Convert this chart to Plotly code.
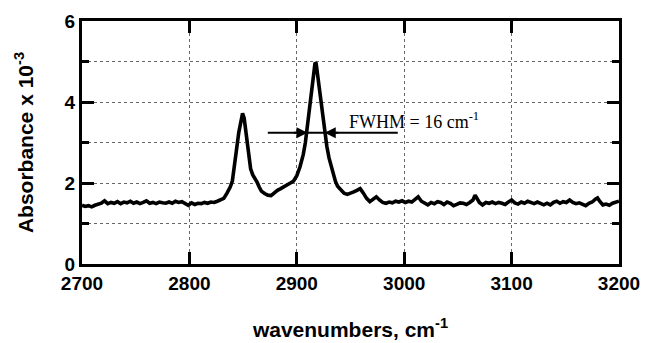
import plotly.graph_objects as go

wavenumbers = [
    2700, 2703, 2706, 2709, 2712, 2715, 2718, 2721, 2724, 2727, 2730, 2733, 2736, 2739, 2742, 2745,
    2748, 2751, 2754, 2757, 2760, 2763, 2766, 2769, 2772, 2775, 2778, 2781, 2784, 2787, 2790, 2793,
    2796, 2799, 2802, 2805, 2808, 2811, 2814, 2817, 2820, 2823, 2826, 2829, 2832, 2835, 2838, 2840,
    2842, 2844, 2846, 2848, 2849.5, 2851, 2853, 2855, 2857, 2859, 2861, 2863, 2865, 2867, 2870, 2873,
    2876, 2879, 2882, 2885, 2888, 2891, 2894, 2897, 2900, 2903, 2906, 2908, 2910, 2912, 2914, 2916,
    2917, 2918, 2920, 2922, 2924, 2926, 2928, 2930, 2932, 2934, 2936, 2938, 2941, 2944, 2947, 2950,
    2953, 2956, 2959, 2962, 2965, 2968, 2971, 2974, 2977, 2980, 2983, 2986, 2989, 2992, 2995, 2998,
    3001, 3004, 3007, 3010, 3013, 3016, 3019, 3022, 3025, 3028, 3031, 3034, 3037, 3040, 3043, 3046,
    3049, 3052, 3055, 3058, 3061, 3064, 3066, 3068, 3070, 3073, 3076, 3079, 3082, 3085, 3088, 3091,
    3094, 3097, 3100, 3103, 3106, 3109, 3112, 3115, 3118, 3121, 3124, 3127, 3130, 3133, 3136, 3139,
    3142, 3145, 3148, 3151, 3154, 3157, 3160, 3163, 3166, 3169, 3172, 3175, 3178, 3180, 3182, 3185,
    3188, 3191, 3194, 3197, 3200,
]

absorbance = [
    1.45, 1.42, 1.44, 1.41, 1.45, 1.47, 1.50, 1.56, 1.49, 1.52, 1.50, 1.54, 1.49, 1.53, 1.51, 1.55,
    1.50, 1.53, 1.49, 1.52, 1.56, 1.50, 1.52, 1.49, 1.53, 1.51, 1.50, 1.53, 1.50, 1.55, 1.52, 1.54,
    1.50, 1.45, 1.51, 1.47, 1.50, 1.49, 1.52, 1.50, 1.53, 1.52, 1.55, 1.58, 1.62, 1.75, 1.90, 2.05,
    2.40, 2.85, 3.25, 3.60, 3.72, 3.60, 3.15, 2.65, 2.35, 2.20, 2.12, 2.02, 1.90, 1.80, 1.74, 1.70,
    1.69, 1.76, 1.82, 1.86, 1.90, 1.95, 2.00, 2.05, 2.18, 2.40, 2.70, 3.00, 3.45, 3.95, 4.45, 4.85,
    4.97, 4.95, 4.55, 4.10, 3.60, 3.20, 2.90, 2.62, 2.40, 2.18, 2.04, 1.92, 1.82, 1.75, 1.72, 1.74,
    1.78, 1.82, 1.86, 1.75, 1.62, 1.54, 1.60, 1.66, 1.58, 1.52, 1.50, 1.53, 1.51, 1.55, 1.53, 1.56,
    1.52, 1.55, 1.53, 1.60, 1.66, 1.55, 1.50, 1.46, 1.52, 1.49, 1.54, 1.52, 1.47, 1.53, 1.50, 1.44,
    1.47, 1.51, 1.50, 1.47, 1.52, 1.58, 1.70, 1.62, 1.52, 1.46, 1.52, 1.50, 1.53, 1.49, 1.52, 1.50,
    1.47, 1.53, 1.58, 1.51, 1.48, 1.53, 1.50, 1.55, 1.52, 1.49, 1.53, 1.50, 1.46, 1.50, 1.46, 1.52,
    1.55, 1.50, 1.54, 1.52, 1.58, 1.52, 1.49, 1.51, 1.48, 1.44, 1.50, 1.53, 1.60, 1.63, 1.55, 1.46,
    1.48, 1.45, 1.50, 1.52, 1.55,
]

x_ticks = [2700, 2800, 2900, 3000, 3100, 3200]
y_ticks = [0, 2, 4, 6]

# FWHM marker
fwhm_y = 3.24
fwhm_line = [2873, 2994]
fwhm_left_head, fwhm_left_tail = 2910, 2896
fwhm_right_head, fwhm_right_tail = 2926, 2940
fwhm_text = "FWHM = 16 cm<sup>-1</sup>"
fwhm_text_x, fwhm_text_y = 2947, 3.55

fig = go.Figure()
fig.add_trace(go.Scatter(x=wavenumbers, y=absorbance, mode="lines",
                         line=dict(color="black", width=3.6), showlegend=False))

fig.add_shape(type="line", x0=fwhm_line[0], x1=fwhm_line[1], y0=fwhm_y, y1=fwhm_y,
              xref="x", yref="y", line=dict(color="black", width=2))
for head, tail in [(fwhm_left_head, fwhm_left_tail), (fwhm_right_head, fwhm_right_tail)]:
    fig.add_annotation(x=head, y=fwhm_y, ax=tail, ay=fwhm_y, xref="x", yref="y",
                       axref="x", ayref="y", text="", showarrow=True,
                       arrowhead=2, arrowsize=1.1, arrowwidth=2, arrowcolor="black")
fig.add_annotation(x=fwhm_text_x, y=fwhm_text_y, xref="x", yref="y", text=fwhm_text,
                   showarrow=False, xanchor="left", yanchor="middle",
                   font=dict(family="Liberation Serif", size=18, color="black"))

axis_common = dict(
    showline=True, linecolor="black", linewidth=3, mirror="ticks",
    ticks="inside", tickcolor="black", tickwidth=3,
    showgrid=True, gridcolor="#666", griddash="dot", gridwidth=1,
    zeroline=False, automargin=False,
    tickfont=dict(family="Liberation Sans", size=19, color="black", weight="bold"),
)

fig.update_xaxes(range=[2700, 3200], tickvals=x_ticks, ticklen=12, **axis_common,
                 title=dict(text="<b>wavenumbers, cm<sup>-1</sup></b>",
                            font=dict(family="Liberation Sans", size=21, color="black"),
                            standoff=30))
fig.update_yaxes(range=[0, 6], tickvals=y_ticks, ticklen=12, **axis_common,
                 minor=dict(dtick=1, tick0=0, ticks="inside", ticklen=7, tickwidth=3,
                            tickcolor="black", showgrid=True, gridcolor="#666",
                            griddash="dot", gridwidth=1),
                 title=dict(text="<b>Absorbance x 10<sup>-3</sup></b>",
                            font=dict(family="Liberation Sans", size=21, color="black"),
                            standoff=26))

fig.update_layout(width=649, height=343, margin=dict(l=74, r=38, t=13, b=87),
                  plot_bgcolor="white", paper_bgcolor="white")

fig.write_html("out.html")
